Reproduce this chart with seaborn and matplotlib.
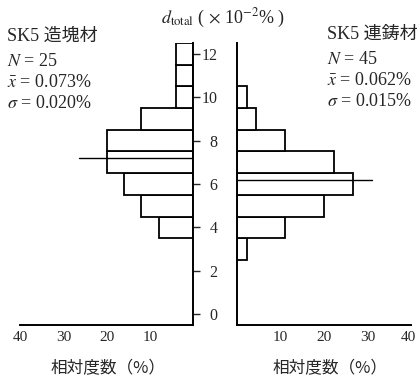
import numpy as np
import pandas as pd
import matplotlib
matplotlib.use("Agg")
import matplotlib.pyplot as plt
import seaborn as sns

# ---- data ----
left_centers = [4, 5, 6, 7, 8, 9, 10, 11, 12]          # d_total (x10^-2 %)
left_pct = [8, 12, 16, 20, 20, 12, 4, 4, 4]              # relative frequency (%)
right_centers = [3, 4, 5, 6, 7, 8, 9, 10]
right_pct = [2.2, 11.1, 20.0, 26.7, 22.2, 11.1, 4.4, 2.2]
left_mean = 7.2
left_mean_len = 26.3
right_mean = 6.2
right_mean_len = 31.0
y_ticks = [0, 2, 4, 6, 8, 10, 12]
x_ticks = [10, 20, 30, 40]
left_title = "SK5 造塊材"
left_stats = [r"$N$ = 25", r"$\bar{x}$ = 0.073%", r"$\sigma$ = 0.020%"]
right_title = "SK5 連鋳材"
right_stats = [r"$N$ = 45", r"$\bar{x}$ = 0.062%", r"$\sigma$ = 0.015%"]
xlabel = "相対度数（%）"

sns.set_style("white")
plt.rcParams['font.family'] = ['Liberation Serif', 'Noto Sans CJK JP', 'DejaVu Sans']
plt.rcParams['mathtext.fontset'] = 'stix'

W, H = 417, 385
fig = plt.figure(figsize=(W / 100, H / 100), dpi=100)
ax_l = fig.add_axes([20 / W, 60 / H, 173.3 / W, 282 / H])
ax_r = fig.add_axes([237 / W, 60 / H, 174 / W, 282 / H])

df_l = pd.DataFrame({"d": left_centers, "pct": left_pct})
df_r = pd.DataFrame({"d": right_centers, "pct": right_pct})

for ax, df in [(ax_l, df_l), (ax_r, df_r)]:
    sns.histplot(data=df, y="d", weights="pct", discrete=True, ax=ax,
                 color="white", edgecolor="black", linewidth=1.3, alpha=1)
    ax.set_ylim(-0.5, 12.5)
    ax.set_xlabel("")
    ax.set_ylabel("")
    ax.set_xticks(x_ticks)
    ax.set_xticklabels([str(t) for t in x_ticks], fontsize=11)
    ax.set_yticks(y_ticks)
    ax.tick_params(axis="x", direction="in", length=5, width=1, color="black", pad=4)
    ax.patch.set_alpha(0)
    for s in ax.spines.values():
        s.set_color("black")
        s.set_linewidth(1.4)

# left panel
ax_l.set_xlim(40, 0)
ax_l.spines["top"].set_visible(False)
ax_l.spines["left"].set_visible(False)
ax_l.yaxis.tick_right()
ax_l.tick_params(axis="y", direction="out", length=5, width=1, labelright=False, labelleft=False)
ax_l.plot([0, left_mean_len], [left_mean, left_mean], color="black", lw=1)

# right panel
ax_r.set_xlim(0, 40)
ax_r.spines["top"].set_visible(False)
ax_r.spines["right"].set_visible(False)
ax_r.tick_params(axis="y", direction="out", length=5, width=1, pad=9, labelsize=11.5)
ax_r.set_yticklabels([str(t) for t in y_ticks])
ax_r.plot([0, right_mean_len], [right_mean, right_mean], color="black", lw=1)
for lbl in ax_r.get_xticklabels():
    if lbl.get_text() == "40":
        lbl.set_horizontalalignment("right")
        lbl.set_x(lbl.get_position()[0])
# nudge the last label so it stays inside the figure
import matplotlib.transforms as mtrans
lbls = ax_r.get_xticklabels()
lbls[-1].set_transform(lbls[-1].get_transform() + mtrans.ScaledTranslation(-3 / 100, 0, fig.dpi_scale_trans))
lbls[-1].set_horizontalalignment("center")

# texts
fig.text(0.535, 1 - 18 / H, r"$d_{\rm total}$ ( $\times$ 10$^{-2}$% )", ha="center", va="center", fontsize=13)

fig.text(7 / W, 1 - 36 / H, left_title, ha="left", va="center", fontsize=13)
for i, s in enumerate(left_stats):
    fig.text(7 / W, 1 - (61 + 21.5 * i) / H, s, ha="left", va="center", fontsize=13)

fig.text(327 / W, 1 - 34 / H, right_title, ha="left", va="center", fontsize=13)
for i, s in enumerate(right_stats):
    fig.text(327 / W, 1 - (59 + 21.5 * i) / H, s, ha="left", va="center", fontsize=13)

fig.text(108 / W, 1 - 369 / H, xlabel, ha="center", va="center", fontsize=12,
         family=['Noto Sans CJK JP', 'DejaVu Sans'])
fig.text(330 / W, 1 - 369 / H, xlabel, ha="center", va="center", fontsize=12,
         family=['Noto Sans CJK JP', 'DejaVu Sans'])

fig.savefig("out.png", dpi=100)
